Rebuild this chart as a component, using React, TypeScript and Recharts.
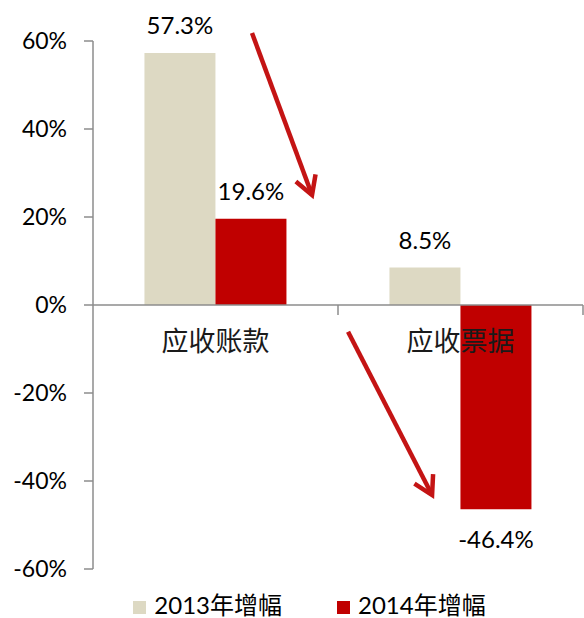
import {
  BarChart,
  Bar,
  XAxis,
  YAxis,
  Legend,
  LabelList,
  ReferenceLine,
  ReferenceDot,
  usePlotArea,
} from "recharts";

const categories = ["应收账款", "应收票据"];
const growth2013 = [57.3, 8.5];
const growth2014 = [19.6, -46.4];
const seriesNames = ["2013年增幅", "2014年增幅"];
const yTicks = [-60, -40, -20, 0, 20, 40, 60];
const yDomain = [-60, 60];

// annotation arrows, in (category units, percent)
const arrows = [
  { from: [0.649, 61.8], to: [0.894, 25.0] },
  { from: [1.041, -6.1], to: [1.384, -43.2] },
];
const boundaryTicks = [1, 2];

const colors = ["#DDD9C3", "#C00000"];
const axisGray = "#8C8C8C";
const arrowRed = "#C41414";
const latinFont = "Lato, 'Noto Sans CJK SC', sans-serif";
const cjkFont = "'Noto Sans CJK SC', sans-serif";

const data = categories.map((name, i) => ({
  name,
  y2013: growth2013[i],
  y2014: growth2014[i],
}));

function ValueLabel(props: any) {
  const { x, y, width, height, value } = props;
  const top = Math.min(y, y + height);
  const bottom = Math.max(y, y + height);
  const ty = value >= 0 ? top - 19 : bottom + 39;
  return (
    <text
      x={x + width / 2}
      y={ty}
      textAnchor="middle"
      fontSize={24}
      fontFamily={latinFont}
      fill="#000"
    >
      {`${value.toFixed(1)}%`}
    </text>
  );
}

function Annotations() {
  const plot = usePlotArea();
  if (!plot) return null;
  const sx = (v: number) => plot.x + (v / categories.length) * plot.width;
  const sy = (v: number) =>
    plot.y + ((yDomain[1] - v) / (yDomain[1] - yDomain[0])) * plot.height;
  const len = 21;
  const spread = (30 * Math.PI) / 180;
  return (
    <g>
      {boundaryTicks.map((t) => (
        <line
          key={t}
          x1={sx(t)}
          x2={sx(t)}
          y1={sy(0)}
          y2={sy(0) + 10}
          stroke={axisGray}
          strokeWidth={1.5}
        />
      ))}
      {arrows.map((a, i) => {
        const x1 = sx(a.from[0]);
        const y1 = sy(a.from[1]);
        const x2 = sx(a.to[0]);
        const y2 = sy(a.to[1]);
        const ang = Math.atan2(y1 - y2, x1 - x2);
        const p1 = [x2 + len * Math.cos(ang + spread), y2 + len * Math.sin(ang + spread)];
        const p2 = [x2 + len * Math.cos(ang - spread), y2 + len * Math.sin(ang - spread)];
        return (
          <g key={i} stroke={arrowRed} strokeWidth={4.5} fill="none">
            <line x1={x1} y1={y1} x2={x2} y2={y2} />
            <polyline
              points={`${p1[0]},${p1[1]} ${x2},${y2} ${p2[0]},${p2[1]}`}
              strokeLinejoin="miter"
            />
          </g>
        );
      })}
    </g>
  );
}

function CategoryLabel(props: any) {
  const { viewBox, value } = props;
  const cx = viewBox.x + viewBox.width / 2;
  return (
    <text
      x={cx}
      y={viewBox.y + 46}
      textAnchor="middle"
      fontSize={27}
      fontFamily={cjkFont}
      fill="#1a1a1a"
    >
      {value}
    </text>
  );
}

function renderLegend() {
  return (
    <div
      style={{
        height: 49,
        boxSizing: "border-box",
        paddingTop: 22,
        paddingLeft: 36,
        display: "flex",
        justifyContent: "center",
        alignItems: "center",
        gap: 55,
      }}
    >
      {seriesNames.map((n, i) => (
        <div key={n} style={{ display: "flex", alignItems: "center" }}>
          <span
            style={{
              display: "inline-block",
              width: 13,
              height: 13,
              background: colors[i],
              marginRight: 8,
              marginTop: 5,
            }}
          />
          <span
            style={{
              fontFamily: latinFont,
              fontSize: 24,
              color: "#000",
              lineHeight: "27px",
            }}
          >
            {n}
          </span>
        </div>
      ))}
    </div>
  );
}

export default function App() {
  return (
    <div style={{ position: "absolute", left: 0, top: 0 }}>
      <BarChart
        width={584}
        height={618}
        data={data}
        margin={{ top: 41, right: 1, bottom: 0, left: 0 }}
        barCategoryGap="21%"
        barGap={0}
      >
        <XAxis dataKey="name" hide />
        <YAxis
          domain={yDomain}
          ticks={yTicks}
          width={93}
          tickSize={9}
          tickMargin={17}
          tickFormatter={(v) => `${v}%`}
          axisLine={{ stroke: axisGray, strokeWidth: 1.5 }}
          tickLine={{ stroke: axisGray, strokeWidth: 1.5 }}
          tick={{ fontSize: 23, fill: "#000", fontFamily: latinFont }}
        />
        <Legend verticalAlign="bottom" content={renderLegend} />
        <Bar dataKey="y2013" name={seriesNames[0]} fill={colors[0]} isAnimationActive={false}>
          <LabelList dataKey="y2013" content={ValueLabel} />
        </Bar>
        <Bar dataKey="y2014" name={seriesNames[1]} fill={colors[1]} isAnimationActive={false}>
          <LabelList dataKey="y2014" content={ValueLabel} />
        </Bar>
        <ReferenceLine y={0} stroke={axisGray} strokeWidth={1.5} />
        {categories.map((c) => (
          <ReferenceDot
            key={c}
            x={c}
            y={0}
            r={0}
            stroke="none"
            fill="none"
            ifOverflow="visible"
            label={<CategoryLabel value={c} />}
          />
        ))}
        <Annotations />
      </BarChart>
    </div>
  );
}
